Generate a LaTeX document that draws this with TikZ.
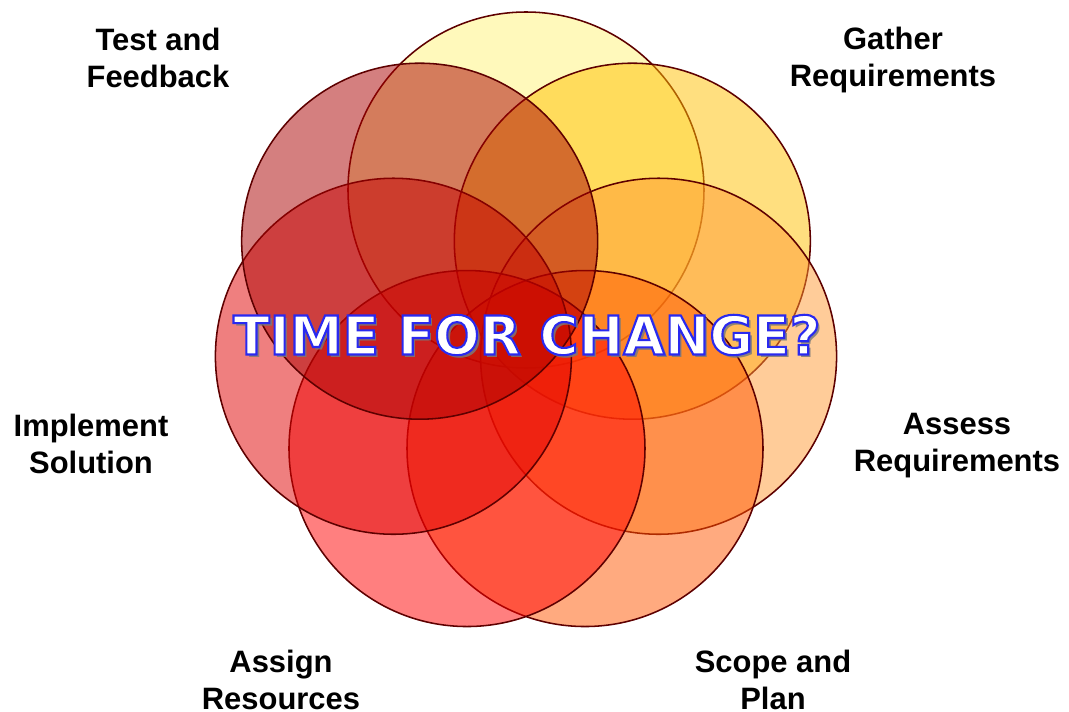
\documentclass[tikz,border=0pt]{standalone}
\usepackage{fontspec}
\setmainfont{Liberation Sans}
\newfontfamily\titrefont{DejaVu Sans}
\definecolor{jauneclair}{HTML}{FFF377}
\definecolor{jaune}{HTML}{FFC000}
\definecolor{orangeclair}{HTML}{FF9933}
\definecolor{orangevif}{HTML}{FF5500}
\definecolor{rouge}{HTML}{FF0000}
\definecolor{rougemoyen}{HTML}{E00000}
\definecolor{rougefonce}{HTML}{AA0000}
\definecolor{bordeaux}{HTML}{5E0000}
\definecolor{ombre}{HTML}{7A7A7A}
% texte blanc cerne de bleu (mode de rendu 2 : remplir et tracer)
\newcommand\cerne[1]{\textcolor{white}{\special{pdf:literal direct 2 Tr 1.5 w 0.16 0.16 0.94 RG}#1\special{pdf:literal direct 0 Tr}}}
\tikzset{
  cercle/.style={circle,draw=bordeaux,line width=1.1pt,fill opacity=0.5,
                 minimum size=8.9cm,inner sep=0pt},
  etiquette/.style={align=center,inner sep=0pt,
                    font=\fontsize{22}{26.3}\selectfont\bfseries},
  titre/.style={inner sep=0pt,font=\titrefont\fontsize{38}{40}\selectfont\bfseries},
}
\begin{document}
\begin{tikzpicture}
  \useasboundingbox (-13.15,-9.625) rectangle (13.575,8.15);
  % sept cercles autour du centre
  \foreach \coul [count=\i from 0] in {jauneclair,jaune,orangeclair,orangevif,rouge,rougemoyen,rougefonce}
    \node[cercle,fill=\coul] (c\i) at ({90-360/7*\i}:3.4) {};
  % etapes
  \node[etiquette] (gather) at (9.175,6.66) {Gather\\Requirements};
  \node[etiquette] (assess) at (10.775,-3.0) {Assess\\Requirements};
  \node[etiquette] (scope) at (6.175,-8.85) {Scope and\\Plan};
  \node[etiquette] (assign) at (-6.125,-8.85) {Assign\\Resources};
  \node[etiquette] (implement) at (-10.875,-2.95) {Implement\\Solution};
  \node[etiquette] (test) at (-9.2,6.7) {Test and\\Feedback};
  % titre : ombre grise puis texte cerne
  \coordinate (centre) at (0.025,-0.225);
  \node[titre,text=ombre,opacity=0.85] (ombretitre) at ([shift={(0.08,-0.08)}]centre) {TIME FOR CHANGE?};
  \node[titre] (titre) at (centre) {\cerne{TIME FOR CHANGE?}};
\end{tikzpicture}
\end{document}
